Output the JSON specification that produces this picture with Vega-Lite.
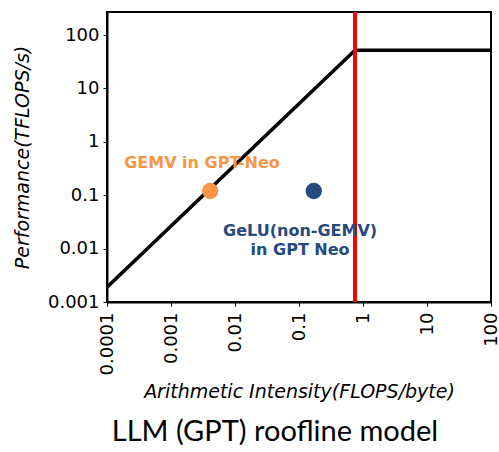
{
  "$schema": "https://vega.github.io/schema/vega-lite/v6.json",
  "autosize": {"type": "none"},
  "width": 384,
  "height": 290,
  "padding": {"left": 107, "top": 12, "right": 8, "bottom": 150},
  "background": "white",
  "config": {
    "font": "DejaVu Sans",
    "view": {"stroke": "black", "strokeWidth": 2},
    "axis": {"grid": false, "domainColor": "black", "domainWidth": 2, "tickColor": "black", "labelColor": "black", "titleColor": "black", "labelFontSize": 18, "labelFont": "DejaVu Sans", "titleFont": "DejaVu Sans", "titleFontSize": 19, "titleFontStyle": "italic", "titleFontWeight": "normal", "tickSize": 4}
  },
  "title": {"text": "LLM (GPT) roofline model", "orient": "bottom", "font": "Lato", "fontSize": 29, "fontWeight": "normal", "color": "black", "offset": 16, "dx": -24},
  "datasets": {
    "roof": [
      {"intensity": 0.0001, "perf": 0.0019},
      {"intensity": 0.75, "perf": 52},
      {"intensity": 100, "perf": 52}
    ],
    "ridge": [{"intensity": 0.75}],
    "points": [
      {"name": "GEMV in GPT-Neo", "intensity": 0.0041, "perf": 0.12},
      {"name": "GeLU(non-GEMV) in GPT Neo", "intensity": 0.17, "perf": 0.12}
    ],
    "labels": [
      {"name": "GEMV in GPT-Neo", "text": "GEMV in GPT-Neo", "intensity": 0.00305, "perf": 0.40},
      {"name": "GeLU(non-GEMV) in GPT Neo", "text": "GeLU(non-GEMV)\nin GPT Neo", "intensity": 0.104, "perf": 0.0218}
    ]
  },
  "layer": [
    {
      "data": {"name": "roof"},
      "mark": {"type": "line", "color": "black", "strokeWidth": 3.5, "clip": true},
      "encoding": {
        "x": {"field": "intensity", "type": "quantitative", "scale": {"type": "log", "domain": [0.0001, 100], "nice": false},
          "axis": {"values": [0.0001, 0.001, 0.01, 0.1, 1, 10, 100], "format": ".4~f", "labelAngle": -90, "labelPadding": 6, "title": "Arithmetic Intensity(FLOPS/byte)", "titlePadding": 8}},
        "y": {"field": "perf", "type": "quantitative", "scale": {"type": "log", "domain": [0.001, 270], "nice": false},
          "axis": {"values": [0.001, 0.01, 0.1, 1, 10, 100], "format": ".3~f", "labelPadding": 4, "title": "Performance(TFLOPS/s)", "titlePadding": 15}}
      }
    },
    {
      "data": {"name": "ridge"},
      "mark": {"type": "rule", "color": "#FF0000", "strokeWidth": 4},
      "encoding": {"x": {"field": "intensity", "type": "quantitative"}}
    },
    {
      "data": {"name": "points"},
      "mark": {"type": "circle", "opacity": 1, "size": 270},
      "encoding": {
        "x": {"field": "intensity", "type": "quantitative"},
        "y": {"field": "perf", "type": "quantitative"},
        "color": {"field": "name", "type": "nominal", "scale": {"domain": ["GEMV in GPT-Neo", "GeLU(non-GEMV) in GPT Neo"], "range": ["#F79646", "#244A7E"]}, "legend": null}
      }
    },
    {
      "data": {"name": "labels"},
      "mark": {"type": "text", "fontWeight": "bold", "fontSize": 16, "lineBreak": "\n", "lineHeight": 19, "align": "center", "baseline": "middle"},
      "encoding": {
        "x": {"field": "intensity", "type": "quantitative"},
        "y": {"field": "perf", "type": "quantitative"},
        "text": {"field": "text"},
        "color": {"field": "name", "type": "nominal", "legend": null}
      }
    }
  ]
}
